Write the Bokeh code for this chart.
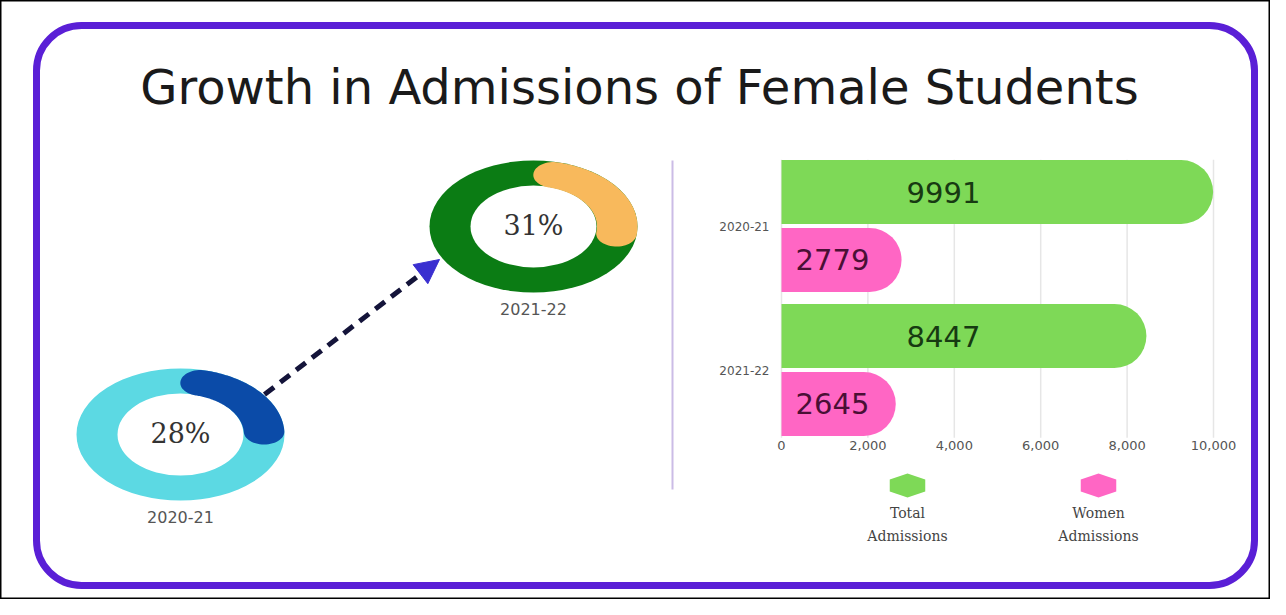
import numpy as np
from bokeh.plotting import figure
from bokeh.models import Range1d, Arrow, NormalHead
from bokeh.core.properties import value
from bokeh.embed import file_html
from bokeh.resources import INLINE

# ---------------- data ----------------
title_text = "Growth in Admissions of Female Students"
years = ["2020-21", "2021-22"]
female_share_pct = [28, 31]
total_admissions = [9991, 8447]
women_admissions = [2779, 2645]
series_names = ["Total Admissions", "Women Admissions"]
x_ticks = [0, 2000, 4000, 6000, 8000, 10000]
tick_labels = ["0", "2,000", "4,000", "6,000", "8,000", "10,000"]

# ---------------- styles ----------------
PURPLE = "#5a1fd6"
RING_BASE = ["#5cd9e3", "#0b7c14"]
RING_HIGHLIGHT = ["#0b4ba8", "#f8b95c"]
BAR_GREEN = "#7ed957"
BAR_PINK = "#ff66c4"
SANS = value("DejaVu Sans")
SERIF = value("DejaVu Serif")

# ---------------- canvas (1 data unit = 1 screen pixel) ----------------
W, H = 1270, 599
X0, Y0 = 8, 8
p = figure(width=W, height=H, x_range=Range1d(X0, X0 + W), y_range=Range1d(Y0 + H, Y0),
           output_backend="svg", toolbar_location=None, min_border=0,
           x_axis_location=None, y_axis_location=None)
p.grid.visible = False
p.outline_line_color = "black"
p.outline_line_width = 2
p.background_fill_color = "white"
p.border_fill_color = "white"

# rounded purple frame
p.quad(left=44, right=1262, top=33, bottom=593, fill_color=None,
       line_color=PURPLE, line_width=7, border_radius=45)

# title
p.text(x=[647], y=[94], text=[title_text], text_font=SANS, text_font_size="48px",
       text_color="#1a1a1a", text_align="center", text_baseline="middle")

# ---------------- donuts ----------------
centers = [(188, 442), (541, 234)]
RX, RY = 104, 66
RX_IN, RY_IN = 63, 41
RI = 0.61


def rounded_sector(cx, cy, pct):
    ro, ri = 1.0, RI
    rm, c = (ro + ri) / 2, (ro - ri) / 2
    span = np.deg2rad(pct * 3.6)
    d = c / rm
    a1, a2 = np.pi / 2 - d, np.pi / 2 - span + d
    X, Y = [], []
    for a in np.linspace(a1, a2, 80):
        X.append(ro * np.cos(a)); Y.append(ro * np.sin(a))
    u = np.array([np.cos(a2), np.sin(a2)]); t = np.array([np.sin(a2), -np.cos(a2)])
    C = rm * u
    for ph in np.linspace(0, np.pi, 30):
        pt = C + c * (np.cos(ph) * u + np.sin(ph) * t)
        X.append(pt[0]); Y.append(pt[1])
    for a in np.linspace(a2, a1, 80):
        X.append(ri * np.cos(a)); Y.append(ri * np.sin(a))
    u = np.array([np.cos(a1), np.sin(a1)]); t = np.array([np.sin(a1), -np.cos(a1)])
    C = rm * u
    for ph in np.linspace(0, np.pi, 30):
        pt = C + c * (-np.cos(ph) * u - np.sin(ph) * t)
        X.append(pt[0]); Y.append(pt[1])
    X, Y = np.array(X), np.array(Y)
    return list(cx + RX * X), list(cy - RY * Y)


cxs = [c[0] for c in centers]
cys = [c[1] for c in centers]
p.ellipse(x=cxs, y=cys, width=2 * RX, height=2 * RY, fill_color=RING_BASE, line_color=None)
p.ellipse(x=cxs, y=cys, width=2 * RX_IN, height=2 * RY_IN, fill_color="white", line_color=None)
xs, ys = [], []
for (cx, cy), pct in zip(centers, female_share_pct):
    sx, sy = rounded_sector(cx, cy, pct)
    xs.append(sx); ys.append(sy)
p.patches(xs=xs, ys=ys, fill_color=RING_HIGHLIGHT, line_color=None)

p.text(x=cxs, y=[cy - 1 for cy in cys], text=[f"{v}%" for v in female_share_pct],
       text_font=SERIF, text_font_size="27px", text_color="#333333",
       text_align="center", text_baseline="middle")
p.text(x=cxs, y=[cy + 82 for cy in cys], text=years, text_font=SANS, text_font_size="16px",
       text_color="#555555", text_align="center", text_baseline="middle")

# dashed arrow between donuts
p.add_layout(Arrow(x_start=272, y_start=402, x_end=447, y_end=267,
                   line_color="#14143a", line_width=5, line_dash="12 8",
                   end=NormalHead(size=24, fill_color="#3a2fd0", line_color="#3a2fd0")))

# separator
p.segment(x0=[680], y0=[168], x1=[680], y1=[497], line_color="#cbbce6", line_width=2)

# ---------------- bar chart (own scales via extra ranges) ----------------
BAR_ZERO_PX, BAR_10K_PX = 789, 1221
upp = 10000 / (BAR_10K_PX - BAR_ZERO_PX)
p.extra_x_ranges = {"bars": Range1d(-(BAR_ZERO_PX - X0) * upp, (X0 + W - BAR_ZERO_PX) * upp)}
G0_PX, G_STEP = 233.5, 144.0
p.extra_y_ranges = {"bars": Range1d((Y0 + H - G0_PX) / G_STEP, (Y0 - G0_PX) / G_STEP)}

gi = list(range(len(years)))
off, bh = 0.236, 0.445
p.segment(x0=x_ticks, y0=[-0.46] * len(x_ticks), x1=x_ticks, y1=[1.47] * len(x_ticks),
          x_range_name="bars", y_range_name="bars", line_color="#e6e6e6", line_width=1.5)
p.hbar(y=[i - off for i in gi], left=0, right=total_admissions, height=bh,
       fill_color=BAR_GREEN, line_color=None, border_radius=(0, 32, 32, 0),
       x_range_name="bars", y_range_name="bars")
p.hbar(y=[i + off for i in gi], left=0, right=women_admissions, height=bh,
       fill_color=BAR_PINK, line_color=None, border_radius=(0, 32, 32, 0),
       x_range_name="bars", y_range_name="bars")
p.text(x=[3750] * len(gi), y=[i - off for i in gi], text=[str(v) for v in total_admissions],
       text_font=SANS, text_font_size="29px", text_color="#173a12",
       text_align="center", text_baseline="middle", x_range_name="bars", y_range_name="bars")
p.text(x=[1180] * len(gi), y=[i + off for i in gi], text=[str(v) for v in women_admissions],
       text_font=SANS, text_font_size="29px", text_color="#4a0f35",
       text_align="center", text_baseline="middle", x_range_name="bars", y_range_name="bars")
p.text(x=[777] * len(gi), y=gi, text=years, text_font=SANS, text_font_size="12px",
       text_color="#555555", text_align="right", text_baseline="middle", y_range_name="bars")
p.text(x=x_ticks, y=[453] * len(x_ticks), text=tick_labels, text_font=SANS,
       text_font_size="13px", text_color="#555555", text_align="center",
       text_baseline="middle", x_range_name="bars")

# ---------------- legend ----------------
leg_x = [915, 1106]
leg_y = 493
hx, hy = [], []
for lx in leg_x:
    ang = np.deg2rad(90 + 60 * np.arange(6))
    hx.append(list(lx + 20.5 * np.cos(ang)))
    hy.append(list(leg_y - 12 * np.sin(ang)))
p.patches(xs=hx, ys=hy, fill_color=[BAR_GREEN, BAR_PINK], line_color=None)
for lx, name in zip(leg_x, series_names):
    words = name.split(" ")
    p.text(x=[lx] * len(words), y=[520 + 23 * k for k in range(len(words))], text=words,
           text_font=SERIF, text_font_size="14px", text_color="#444444",
           text_align="center", text_baseline="middle")

open("out.html", "w").write(file_html(p, INLINE))
